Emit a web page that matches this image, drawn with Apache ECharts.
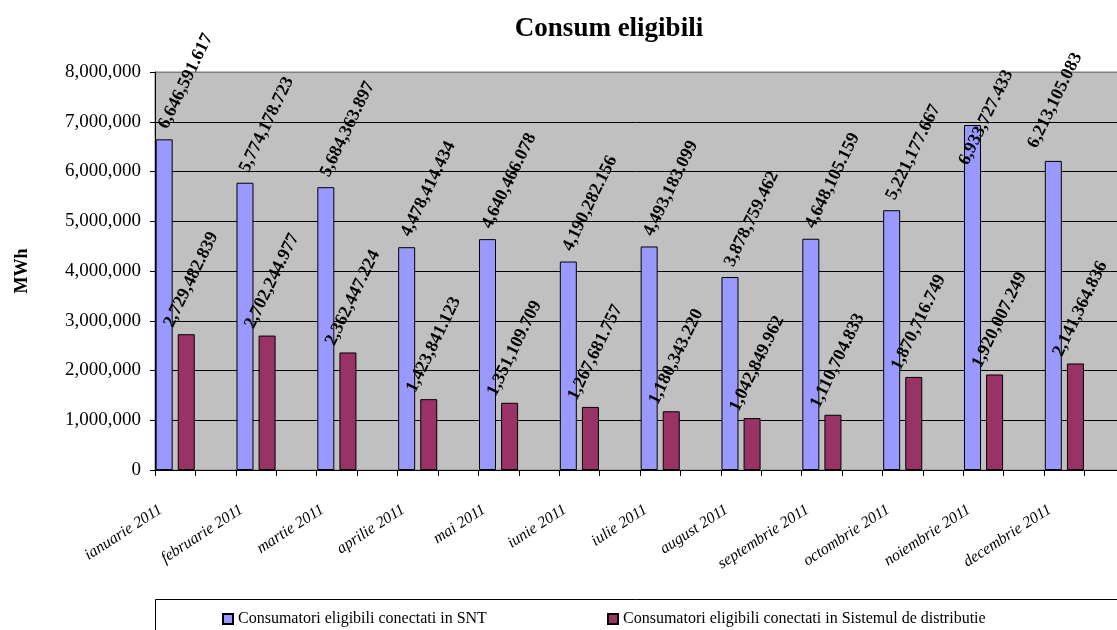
<!DOCTYPE html>
<html>
<head>
<meta charset="utf-8">
<script src="https://cdn.jsdelivr.net/npm/echarts@6/dist/echarts.min.js"></script>
<style>
html,body{margin:0;padding:0;background:#fff;overflow:hidden;}
#chart{width:1117px;height:630px;}
</style>
</head>
<body>
<div id="chart"></div>
<script>
const titleText = 'Consum eligibili';
const yAxisName = 'MWh';
const months = ['ianuarie 2011','februarie 2011','martie 2011','aprilie 2011','mai 2011','iunie 2011','iulie 2011','august 2011','septembrie 2011','octombrie 2011','noiembrie 2011','decembrie 2011'];
const seriesNames = ['Consumatori eligibili conectati in SNT','Consumatori eligibili conectati in Sistemul de distributie'];
const sntValues = [6646591.617,5774178.723,5684363.897,4478414.434,4640466.078,4190282.156,4493183.099,3878759.462,4648105.159,5221177.667,6933727.433,6213105.083];
const distValues = [2729482.839,2702244.977,2362447.224,1423841.123,1351109.709,1267681.757,1180343.220,1042849.962,1110704.833,1870716.749,1920007.249,2141364.836];
const yMin = 0, yMax = 8000000, yInterval = 1000000;

// Excel layout: each month followed by an empty category slot
const cats = [];
months.forEach(m => { cats.push(m); cats.push(''); });

// label placement tweaks (Excel keeps labels inside the chart area for the last two blue bars)
const blueLabelOffset = [10, -6];
const blueLabelOverride = {10: [-39, 9], 11: [3.4, -25]};
const spread = (arr, overrides) => {
  const r = [];
  arr.forEach((v, i) => {
    if (overrides && overrides[i]) r.push({value: v, label: {offset: overrides[i]}});
    else r.push(v);
    r.push('-');
  });
  return r;
};

const serif = '"Liberation Serif","Times New Roman",serif';
const fmt3 = v => Number(v).toLocaleString('en-US',{minimumFractionDigits:3,maximumFractionDigits:3});
const fmt0 = v => Number(v).toLocaleString('en-US');

const chart = echarts.init(document.getElementById('chart'), null, {renderer:'canvas'});
const labelBase = {
  show: true, position: 'top', distance: 0, rotate: 64,
  align: 'left', verticalAlign: 'middle',
  fontFamily: serif, fontWeight: 'bold', fontSize: 18, color: '#000',
  formatter: p => fmt3(p.value)
};
chart.setOption({
  backgroundColor: '#fff',
  animation: false,
  title: {
    text: titleText, left: 604, top: 11, textAlign: 'center',
    textStyle: {fontFamily: serif, fontWeight: 'bold', fontSize: 27, color: '#000'}
  },
  graphic: [{
    type: 'rect', z: 0,
    shape: {x: 155.5, y: 599.5, width: 1000, height: 100},
    style: {fill: '#fff', stroke: '#000', lineWidth: 1}
  }],
  legend: [
    {data: [seriesNames[0]], left: 217, top: 606, itemWidth: 10, itemHeight: 10, icon: 'rect',
     textStyle: {fontFamily: serif, fontSize: 16, color: '#000'}},
    {data: [seriesNames[1]], left: 602, top: 606, itemWidth: 10, itemHeight: 10, icon: 'rect',
     textStyle: {fontFamily: serif, fontSize: 16, color: '#000'}}
  ],
  grid: {left: 155, top: 72, width: 970, height: 398, show: true, outerBoundsMode: 'none', containLabel: false,
         backgroundColor: '#C0C0C0', borderColor: '#808080', borderWidth: 1},
  xAxis: {
    type: 'category', data: cats, boundaryGap: true,
    axisLine: {lineStyle: {color: '#000', width: 1}},
    axisTick: {show: true, interval: 0, length: 6, lineStyle: {color: '#000'}},
    axisLabel: {interval: 0, rotate: 33, margin: 29, padding: [0,17,0,0],
      fontFamily: serif, fontStyle: 'italic', fontSize: 16, color: '#000'}
  },
  yAxis: {
    type: 'value', min: yMin, max: yMax, interval: yInterval,
    name: yAxisName, nameLocation: 'middle', nameGap: 124, nameRotate: 90,
    nameTextStyle: {fontFamily: serif, fontWeight: 'bold', fontSize: 18, color: '#000'},
    axisLine: {show: true, lineStyle: {color: '#000'}},
    axisTick: {show: true, length: 5, lineStyle: {color: '#000'}},
    axisLabel: {margin: 14, fontFamily: serif, fontSize: 19, color: '#000', formatter: v => fmt0(v)},
    splitLine: {show: true, lineStyle: {color: ['#000','#000','#000','#000','#000','#000','#000','#000','#808080'], width: 1}}
  },
  series: [
    {name: seriesNames[0], type: 'bar', data: spread(sntValues, blueLabelOverride), barWidth: 17, barGap: '30%',
     itemStyle: {color: '#9999FF', borderColor: '#000', borderWidth: 1},
     label: Object.assign({}, labelBase, {offset: blueLabelOffset})},
    {name: seriesNames[1], type: 'bar', data: spread(distValues), barWidth: 17, barGap: '30%',
     itemStyle: {color: '#993366', borderColor: '#000', borderWidth: 1},
     label: Object.assign({}, labelBase, {offset: [-0.6, -19.5]})}
  ]
});
</script>
</body>
</html>
